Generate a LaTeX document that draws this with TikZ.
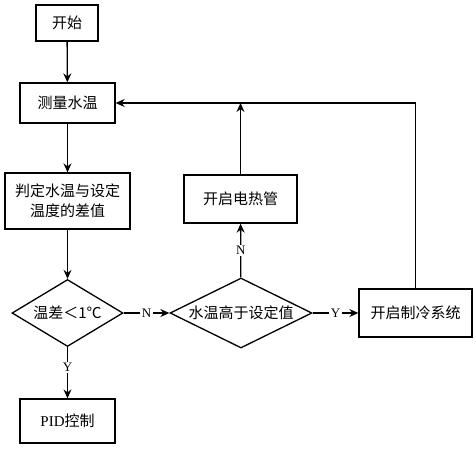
\documentclass[tikz,border=0pt]{standalone}
\usepackage{fontspec}
\newfontfamily\cjk{Noto Sans CJK SC}
\newfontfamily\lat{Liberation Serif}
\usetikzlibrary{shapes.geometric,arrows.meta}

\begin{document}
\begin{tikzpicture}[x=1pt,y=-1pt,>={Stealth[length=9pt,width=8pt,inset=3pt]},
	box/.style={draw,line width=1.3pt,inner sep=0pt,font=\cjk\fontsize{15}{20}\selectfont,align=center},
	choice/.style={draw,diamond,line width=1.3pt,inner sep=0pt,font=\cjk\fontsize{15}{20}\selectfont},
	flow/.style={->,line width=1.3pt},
	yn/.style={fill=white,inner sep=1.5pt,font=\lat\fontsize{13}{13}\selectfont}]
	\useasboundingbox (0,0) rectangle (476,448);
	
	\node[box,minimum width=62pt,minimum height=36pt] (start) at (67,23) {开始};
	\node[box,minimum width=95pt,minimum height=40pt] (measure) at (67.5,103) {测量水温};
	\node[box,minimum width=125pt,minimum height=56pt] (judge) at (67.5,201) {判定水温与设定\\温度的差值};
	\node[choice,shape aspect=1.66,minimum width=111pt,minimum height=67pt] (diff) at (67.5,313) {温差＜1℃};
	\node[box,minimum width=95pt,minimum height=44pt] (pid) at (67.5,421) {{\lat PID}控制};
	\node[choice,shape aspect=2.03,minimum width=142pt,minimum height=70pt] (hot) at (241,313) {水温高于设定值};
	\node[box,minimum width=113pt,minimum height=48pt] (heater) at (240.5,199) {开启电热管};
	\node[box,minimum width=113pt,minimum height=48pt] (cool) at (415.5,313) {开启制冷系统};
	
	\coordinate (join) at (heater.north |- measure.east);
	
	\draw[flow] (start) -- (measure);
	\draw[flow] (measure) -- (judge);
	\draw[flow] (judge) -- (diff);
	\draw[flow] (diff) -- (pid) node[yn,pos=0.4] {Y};
	\draw[flow] (diff) -- (hot) node[yn,midway] {N};
	\draw[flow] (hot) -- (heater) node[yn,midway] {N};
	\draw[flow] (hot) -- (cool) node[yn,midway] {Y};
	\draw[flow] (heater) -- (join);
	\draw[flow] (cool.north) |- (measure.east);
\end{tikzpicture}
\end{document}
